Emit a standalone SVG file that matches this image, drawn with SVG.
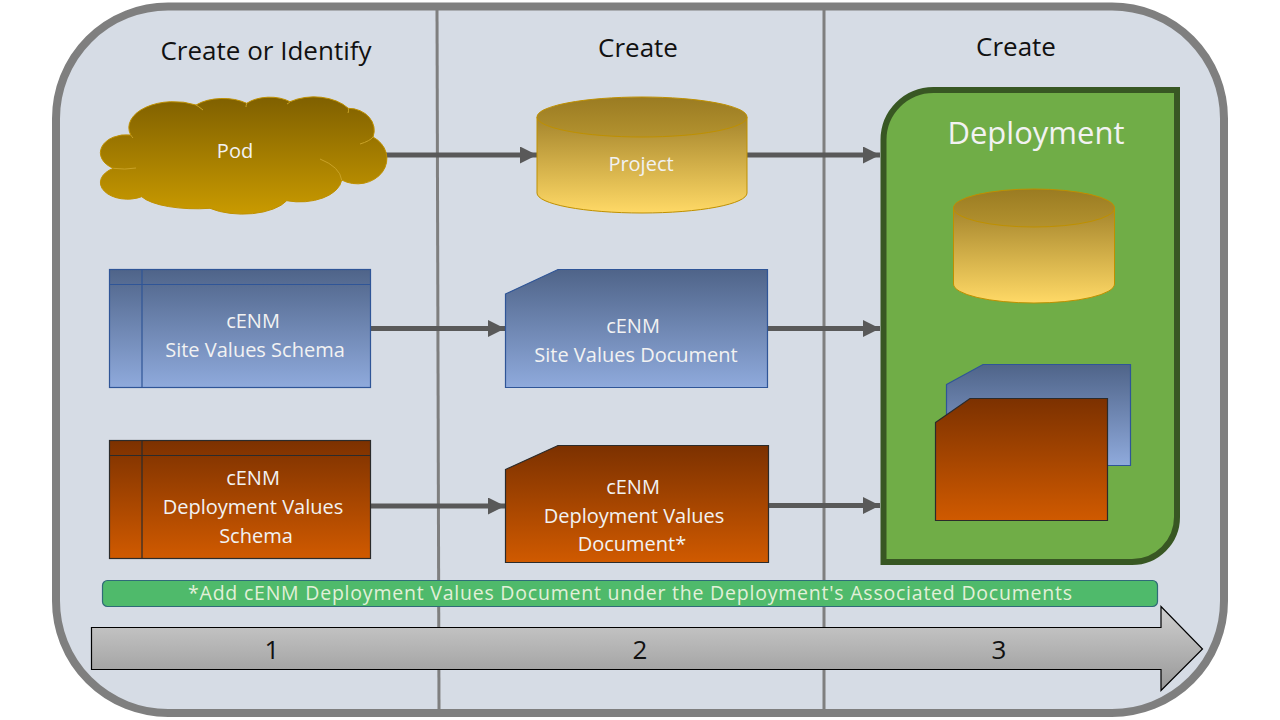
<svg xmlns="http://www.w3.org/2000/svg" width="1280" height="720" viewBox="0 0 1280 720">
<style>
text{font-family:"Open Sans","Noto Sans","Liberation Sans",sans-serif;text-anchor:middle}
.w{fill:#f2f2f2;font-size:20px}
.t{fill:#111;font-size:26px}
.div{stroke:#7f7f7f;stroke-width:3;fill:none}
.c{stroke:#595959;stroke-width:5;fill:none;marker-end:url(#ah)}
.blue{fill:url(#gb);stroke:#2f5597;stroke-width:1.2}
.or{fill:url(#go);stroke:#2b2b2b;stroke-width:1.2}
.bl{stroke:#2f5597;stroke-width:1.2;fill:none}
.ol{stroke:#2b2b2b;stroke-width:1.2;fill:none}
.cy{fill:url(#gy);stroke:#bf9000;stroke-width:1}
.cyt{fill:url(#gyt);stroke:#bf9000;stroke-width:1}
</style>
<defs>
<linearGradient id="gc" x1="0" y1="0" x2="0" y2="1"><stop offset="0" stop-color="#7f6000"/><stop offset="1" stop-color="#c99a00"/></linearGradient>
<linearGradient id="gy" x1="0" y1="0" x2="0" y2="1"><stop offset="0" stop-color="#a5852c"/><stop offset="1" stop-color="#ffd966"/></linearGradient>
<linearGradient id="gyt" x1="0" y1="0" x2="0" y2="1"><stop offset="0" stop-color="#9a7b22"/><stop offset="1" stop-color="#b3922f"/></linearGradient>
<linearGradient id="gb" x1="0" y1="0" x2="0" y2="1"><stop offset="0" stop-color="#4f6489"/><stop offset="1" stop-color="#8faadc"/></linearGradient>
<linearGradient id="go" x1="0" y1="0" x2="0" y2="1"><stop offset="0" stop-color="#7c3100"/><stop offset="1" stop-color="#d05a00"/></linearGradient>
<linearGradient id="ga" x1="0" y1="0" x2="0" y2="1"><stop offset="0" stop-color="#d0d0d0"/><stop offset="1" stop-color="#979797"/></linearGradient>
<marker id="ah" markerUnits="userSpaceOnUse" markerWidth="18" markerHeight="18" refX="17" refY="8.5" orient="auto"><path d="M0 0L17 8.5L0 17Z" fill="#595959"/></marker>
</defs>
<rect width="1280" height="720" fill="#fff"/>
<g id="panel"><rect x="56" y="6.5" width="1168" height="706.5" rx="112" ry="112" fill="#d6dce5" stroke="#7f7f7f" stroke-width="8"/></g>
<g id="dividers">
<path class="div" d="M437 10L439 710"/>
<path class="div" d="M824 10L824 710"/>
</g>
<g id="headers">
<text class="t" x="266" y="60">Create or Identify</text>
<text class="t" x="638" y="57">Create</text>
<text class="t" x="1016" y="56">Create</text>
</g>
<g id="connectors">
<path class="c" d="M379 155H537"/>
<path class="c" d="M747 155H880"/>
<path class="c" d="M371 328.500H505"/>
<path class="c" d="M768 328.500H880"/>
<path class="c" d="M371 506H505"/>
<path class="c" d="M769 505.500H880"/>
</g>
<g id="pod">
<path fill="url(#gc)" stroke="#bf9000" stroke-width="1" d="M130.700 135A45 26 0 0 1 196 105A38 22 0 0 1 246.700 103.300A32 20 0 0 1 290 101.700A42 27 0 0 1 348.300 108.300A26 22 0 0 1 373 137A28 24 0 0 1 341.700 180A42 24 0 0 1 286.700 200.700A48 22 0 0 1 210 208.300A58 18 0 0 1 141.700 196.700A26 16 0 0 1 113.300 168.300A26 18 0 0 1 130.700 135Z"/>
<path fill="none" stroke="#c9a227" stroke-width="1" d="M196 105Q198 106 203 110M246.700 103.300Q246 106 246 107M290 101.700Q289 103 287 104M348.300 108.300Q349 111 348 113M373 137Q370 141 360 144M320 159Q340 167 341.700 180M113.300 168.300Q125 170 136 168M130.700 135Q132 137 133 138"/>
<text class="w" x="235" y="158">Pod</text>
</g>
<g id="project">
<path class="cy" d="M537 117V193A105 20 0 0 0 747 193V117Z"/>
<ellipse class="cyt" cx="642" cy="117" rx="105" ry="20"/>
<text class="w" x="641" y="171">Project</text>
</g>
<g id="site-schema">
<rect class="blue" x="109.500" y="269.500" width="261" height="118"/>
<path class="bl" d="M142 269.500V387.500M109.500 284.500H370.500"/>
<text class="w" x="253" y="328">cENM</text>
<text class="w" x="255" y="357">Site Values Schema</text>
</g>
<g id="site-doc">
<path class="blue" d="M505.500 294L558 269.500H767.500V387.500H505.500Z"/>
<text class="w" x="633" y="333">cENM</text>
<text class="w" x="636" y="362">Site Values Document</text>
</g>
<g id="deployment-schema">
<rect class="or" x="109.500" y="440.500" width="261" height="118"/>
<path class="ol" d="M142 440.500V558.500M109.500 455.500H370.500"/>
<text class="w" x="253" y="485">cENM</text>
<text class="w" x="253" y="514">Deployment Values</text>
<text class="w" x="256" y="543">Schema</text>
</g>
<g id="deployment-doc">
<path class="or" d="M505.500 469.500L558 445.500H768.500V562.500H505.500Z"/>
<text class="w" x="633" y="494">cENM</text>
<text class="w" x="634" y="523">Deployment Values</text>
<text class="w" x="632" y="551">Document*</text>
</g>
<g id="deployment">
<path fill="#70ad47" stroke="#385723" stroke-width="6" d="M883.500 562V140A50 50 0 0 1 933.500 90H1177V517A45 45 0 0 1 1132 562Z"/>
<text x="1036" y="144" fill="#f2f2f2" font-size="31">Deployment</text>
<path class="cy" d="M953.500 208V284A80.500 19 0 0 0 1114.500 284V208Z"/>
<ellipse class="cyt" cx="1034" cy="208" rx="80.500" ry="19"/>
<path class="blue" d="M946.500 384.500L983 364.500H1130.500V465.500H946.500Z"/>
<path class="or" d="M935.500 422.500L970 398.500H1107.500V520.500H935.500Z"/>
</g>
<g id="note">
<rect x="102.500" y="580.500" width="1055" height="26" rx="5" fill="#4fba6b" stroke="#2f6b78" stroke-width="1.200"/>
<text x="630" y="600" fill="#e2f0d9" font-size="19.500" textLength="884" lengthAdjust="spacing">*Add cENM Deployment Values Document under the Deployment's Associated Documents</text>
</g>
<g id="timeline">
<path fill="url(#ga)" stroke="#000" stroke-width="1.200" d="M91.500 627.500H1161V606.500L1202.500 649L1161 690.500V669.500H91.500Z"/>
<text class="t" x="272" y="659" fill="#111">1</text>
<text class="t" x="640" y="659">2</text>
<text class="t" x="999" y="659">3</text>
</g>
</svg>
